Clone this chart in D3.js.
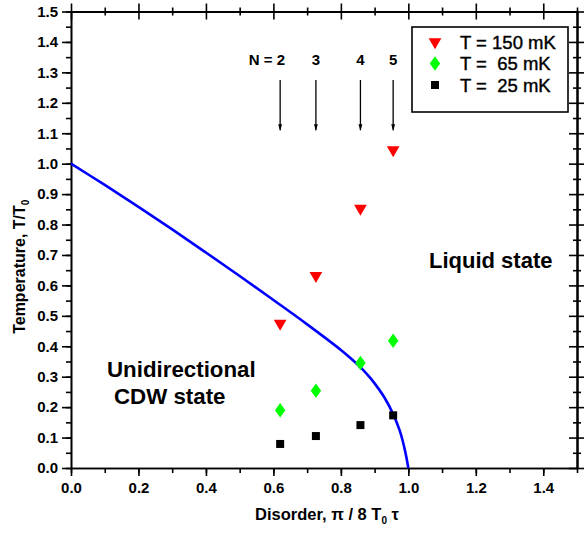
<!DOCTYPE html>
<html>
<head>
<meta charset="utf-8">
<script src="https://cdn.jsdelivr.net/npm/d3@7"></script>
<style>
  body { margin: 0; background: #fff; }
  text { font-family: "Liberation Sans", Arial, sans-serif; }
</style>
</head>
<body>
<div id="chart"></div>
<script>
// data
var disorder = [0.62, 0.726, 0.858, 0.955];
var t150 = [0.475, 0.632, 0.853, 1.045];
var t65 = [0.19, 0.254, 0.345, 0.418];
var t25 = [0.079, 0.105, 0.141, 0.173];

// phase boundary, sampled off the blue line
var curveX = [0, 0.1, 0.2, 0.3, 0.4, 0.5, 0.6, 0.7, 0.8, 0.83, 0.86, 0.88, 0.9, 0.93, 0.955, 0.975, 0.99, 1.0];
var curveY = [1.0, 0.93, 0.858, 0.784, 0.708, 0.631, 0.552, 0.472, 0.388, 0.36, 0.329, 0.305, 0.278, 0.23, 0.177, 0.121, 0.058, 0.0];

var arrowLabels = ["N = 2", "3", "4", "5"];
var legendLabels = ["T = 150 mK", "T =  65 mK", "T =  25 mK"];

var xTicks = [0.0, 0.2, 0.4, 0.6, 0.8, 1.0, 1.2, 1.4];
var yTicks = [0.0, 0.1, 0.2, 0.3, 0.4, 0.5, 0.6, 0.7, 0.8, 0.9, 1.0, 1.1, 1.2, 1.3, 1.4, 1.5];

var width = 584, height = 533;
var mLeft = 71, mRight = 577, mTop = 11.5, mBottom = 468;

var svg = d3.select("#chart").append("svg")
    .attr("width", width)
    .attr("height", height);

var x = d3.scaleLinear().domain([0, 1.5]).range([mLeft, mRight]);
var y = d3.scaleLinear().domain([0, 1.5]).range([mBottom, mTop]);

var xMinor = d3.range(0, 1.51, 0.1);
var yMinor = d3.range(0, 1.51, 0.05);

function styleAxis(g) {
    g.selectAll("path, line").attr("stroke", "#000").attr("stroke-width", 1.6);
    g.selectAll("text").attr("font-size", 15).attr("font-weight", "bold").attr("fill", "#000");
}

// bottom
svg.append("g").attr("transform", "translate(0," + mBottom + ")")
    .call(d3.axisBottom(x).tickValues(xMinor).tickSize(5).tickSizeOuter(0).tickFormat(""))
    .call(styleAxis);
svg.append("g").attr("transform", "translate(0," + mBottom + ")")
    .call(d3.axisBottom(x).tickValues(xTicks).tickSize(8).tickSizeOuter(0).tickPadding(6).tickFormat(d3.format(".1f")))
    .call(styleAxis);

// left
svg.append("g").attr("transform", "translate(" + mLeft + ",0)")
    .call(d3.axisLeft(y).tickValues(yMinor).tickSize(5).tickSizeOuter(0).tickFormat(""))
    .call(styleAxis);
svg.append("g").attr("transform", "translate(" + mLeft + ",0)")
    .call(d3.axisLeft(y).tickValues(yTicks).tickSize(9).tickSizeOuter(0).tickPadding(4).tickFormat(d3.format(".1f")))
    .call(styleAxis);

// top and right, ticks crossing the frame
[8, -8].forEach(function(s) {
    svg.append("g").attr("transform", "translate(0," + mTop + ")")
        .call(d3.axisTop(x).tickValues(xTicks).tickSize(s).tickSizeOuter(0).tickFormat(""))
        .call(styleAxis);
    svg.append("g").attr("transform", "translate(0," + mTop + ")")
        .call(d3.axisTop(x).tickValues(xMinor.filter(function(d, i) { return i % 2; })).tickSize(s / 2).tickSizeOuter(0).tickFormat(""))
        .call(styleAxis);
    svg.append("g").attr("transform", "translate(" + mRight + ",0)")
        .call(d3.axisRight(y).tickValues(yTicks).tickSize(s).tickSizeOuter(0).tickFormat(""))
        .call(styleAxis);
    svg.append("g").attr("transform", "translate(" + mRight + ",0)")
        .call(d3.axisRight(y).tickValues(yMinor.filter(function(d, i) { return i % 2; })).tickSize(s / 2).tickSizeOuter(0).tickFormat(""))
        .call(styleAxis);
});

// phase boundary
var line = d3.line()
    .x(function(d, i) { return x(curveX[i]); })
    .y(function(d, i) { return y(curveY[i]); })
    .curve(d3.curveCatmullRom);
svg.append("path")
    .attr("d", line(curveX))
    .attr("fill", "none")
    .attr("stroke", "#0000ff")
    .attr("stroke-width", 2.6);

// markers
var tri = d3.symbol().type(d3.symbolTriangle).size(70);
var dia = d3.symbol().type(d3.symbolDiamond).size(60);
var sq = d3.symbol().type(d3.symbolSquare).size(64);

svg.append("g").selectAll("path").data(disorder).enter().append("path")
    .attr("d", tri)
    .attr("transform", function(d, i) { return "translate(" + x(d) + "," + y(t150[i]) + ") rotate(180)"; })
    .attr("fill", "#ff0000");
svg.append("g").selectAll("path").data(disorder).enter().append("path")
    .attr("d", dia)
    .attr("transform", function(d, i) { return "translate(" + x(d) + "," + y(t65[i]) + ") scale(1.25,1)"; })
    .attr("fill", "#00ff00");
svg.append("g").selectAll("path").data(disorder).enter().append("path")
    .attr("d", sq)
    .attr("transform", function(d, i) { return "translate(" + x(d) + "," + y(t25[i]) + ")"; })
    .attr("fill", "#000");

// arrows marking filling factors
svg.append("defs").append("marker")
    .attr("id", "head")
    .attr("viewBox", "0 0 10 10")
    .attr("refX", 9).attr("refY", 5)
    .attr("markerWidth", 5).attr("markerHeight", 5)
    .attr("orient", "auto")
    .append("path").attr("d", "M0,2L10,5L0,8Z").attr("fill", "#000");

svg.append("g").selectAll("line").data(disorder).enter().append("line")
    .attr("x1", function(d) { return x(d); })
    .attr("x2", function(d) { return x(d); })
    .attr("y1", y(1.275))
    .attr("y2", y(1.11))
    .attr("stroke", "#000")
    .attr("stroke-width", 1.3)
    .attr("marker-end", "url(#head)");

svg.append("g").selectAll("text").data(disorder).enter().append("text")
    .attr("x", function(d, i) { return x(d) + (i === 0 ? 5 : 0); })
    .attr("y", y(1.324))
    .attr("text-anchor", function(d, i) { return i === 0 ? "end" : "middle"; })
    .attr("font-size", 15)
    .attr("font-weight", "bold")
    .text(function(d, i) { return arrowLabels[i]; });

// legend
var lg = svg.append("g");
lg.append("rect")
    .attr("x", 412).attr("y", 27)
    .attr("width", 156).attr("height", 85)
    .attr("fill", "#fff").attr("stroke", "#000").attr("stroke-width", 1.6);
var legendRows = [42, 63.5, 85];
var legendSym = [tri, dia, sq];
var legendFill = ["#ff0000", "#00ff00", "#000"];
legendLabels.forEach(function(lab, i) {
    lg.append("path")
        .attr("d", legendSym[i])
        .attr("transform", "translate(435," + legendRows[i] + ")" + (i === 0 ? " rotate(180)" : i === 1 ? " scale(1.25,1)" : ""))
        .attr("fill", legendFill[i]);
    lg.append("text")
        .attr("x", 460).attr("y", legendRows[i] + 6.5)
        .attr("font-size", 18.5)
        .attr("stroke", "#000").attr("stroke-width", 0.4)
        .style("white-space", "pre")
        .text(lab);
});

// region labels
svg.append("text").attr("x", 429).attr("y", 268)
    .attr("font-size", 22).attr("font-weight", "bold").text("Liquid state");
svg.append("text").attr("x", 107).attr("y", 377)
    .attr("font-size", 22.3).attr("font-weight", "bold").text("Unidirectional");
svg.append("text").attr("x", 114).attr("y", 404)
    .attr("font-size", 22.3).attr("font-weight", "bold").text("CDW state");

// axis titles
var xt = svg.append("text")
    .attr("x", (mLeft + mRight) / 2 + 3).attr("y", 520)
    .attr("text-anchor", "middle")
    .attr("font-size", 16.5).attr("font-weight", "bold");
xt.append("tspan").text("Disorder, \u03c0 / 8 T");
xt.append("tspan").attr("font-size", 10).attr("dy", 4).text("0");
xt.append("tspan").attr("dy", -4).text(" \u03c4");

var yt = svg.append("text")
    .attr("transform", "translate(25," + ((mTop + mBottom) / 2 + 27) + ") rotate(-90)")
    .attr("text-anchor", "middle")
    .attr("font-size", 16).attr("font-weight", "bold");
yt.append("tspan").text("Temperature, T/T");
yt.append("tspan").attr("font-size", 10).attr("dy", 4).text("0");
</script>
</body>
</html>
